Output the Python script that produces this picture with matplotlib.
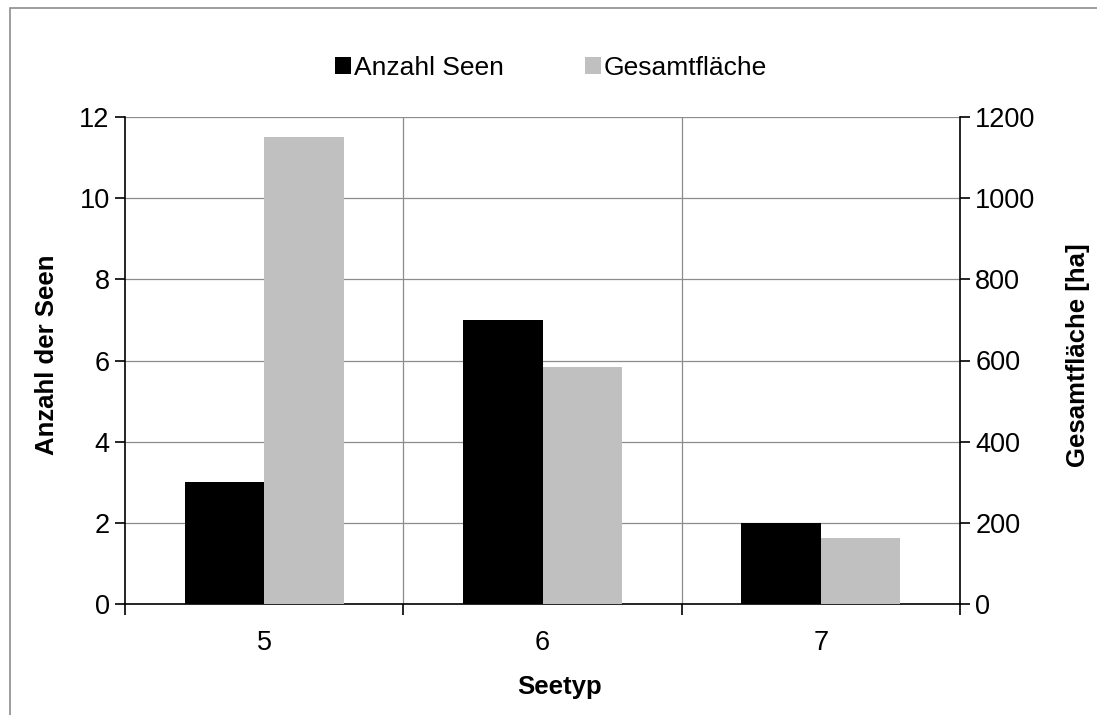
import numpy as np
import matplotlib
matplotlib.use('Agg')
import matplotlib.pyplot as plt
from matplotlib.patches import Rectangle

plt.rcParams['font.family'] = ['Liberation Sans', 'DejaVu Sans']

# Seetypen und Werte
seetyp = ['5', '6', '7']
anzahl_seen = [3, 7, 2]
gesamtflaeche = [1150, 583, 163]

fig = plt.figure(figsize=(10.97, 7.15), dpi=100)
ax = fig.add_axes([125/1097, 1 - 604/715, (960 - 125)/1097, (604 - 117)/715])
ax2 = ax.twinx()

x = np.arange(len(seetyp))
w = 1 / 3.5

ax.bar(x - w/2, anzahl_seen, w, color='black', label='Anzahl Seen', zorder=3)
ax2.bar(x + w/2, gesamtflaeche, w, color='#c0c0c0', label='Gesamtfläche', zorder=3)

ax.set_xlim(-0.5, len(seetyp) - 0.5)
ax.set_ylim(0, 12)
ax2.set_ylim(0, 1200)
ax.set_yticks(np.arange(0, 13, 2))
ax2.set_yticks(np.arange(0, 1201, 200))

# Gitter: horizontal an den Ticks, vertikal zwischen den Kategorien
for v in np.arange(2, 13, 2):
    ax.axhline(v, color='#8c8c8c', lw=0.9, zorder=1)
for b in np.arange(0.5, len(seetyp) - 1, 1):
    ax.axvline(b, color='#8c8c8c', lw=0.9, zorder=1)

ax.set_xticks(np.arange(-0.5, len(seetyp), 1))
ax.set_xticklabels([])
ax.set_xticks(x, minor=True)
ax.set_xticklabels(seetyp, minor=True)
ax.tick_params(axis='x', which='major', direction='out', length=8, width=1.2)
ax.tick_params(axis='x', which='minor', length=0, pad=19, labelsize=19.5)
ax.tick_params(axis='y', direction='out', length=7, width=1.2, pad=4, labelsize=19.5)
ax2.tick_params(axis='y', direction='out', length=7, width=1.2, pad=4, labelsize=19.5)

for a in (ax, ax2):
    a.spines['top'].set_visible(False)
    for s in ('left', 'right', 'bottom'):
        a.spines[s].set_linewidth(1.2)
ax.spines['right'].set_visible(False)
ax2.spines['left'].set_visible(False)
ax2.spines['bottom'].set_visible(False)

fig.text(47/1097, 1 - 355/715, 'Anzahl der Seen', rotation=90, fontsize=18.5,
         fontweight='bold', ha='center', va='center')
fig.text(1078/1097, 1 - 355/715, 'Gesamtfläche [ha]', rotation=90, fontsize=18.5,
         fontweight='bold', ha='center', va='center')
fig.text(560/1097, 1 - 687/715, 'Seetyp', fontsize=18.5, fontweight='bold',
         ha='center', va='center')

h1, l1 = ax.get_legend_handles_labels()
h2, l2 = ax2.get_legend_handles_labels()
fig.legend(h1 + h2, l1 + l2, loc='center', bbox_to_anchor=(551/1097, 1 - 68/715),
           ncol=2, frameon=False, fontsize=19, handlelength=0.6, handleheight=0.6,
           handletextpad=0.1, columnspacing=3.1)

# Rahmen um die Grafik
fig.patches.append(Rectangle((10/1097, -0.1), 1.2, 1.1 - 8/715, transform=fig.transFigure,
                             fill=False, edgecolor='#8c8c8c', lw=1.2))

fig.savefig('out.png', dpi=100)
